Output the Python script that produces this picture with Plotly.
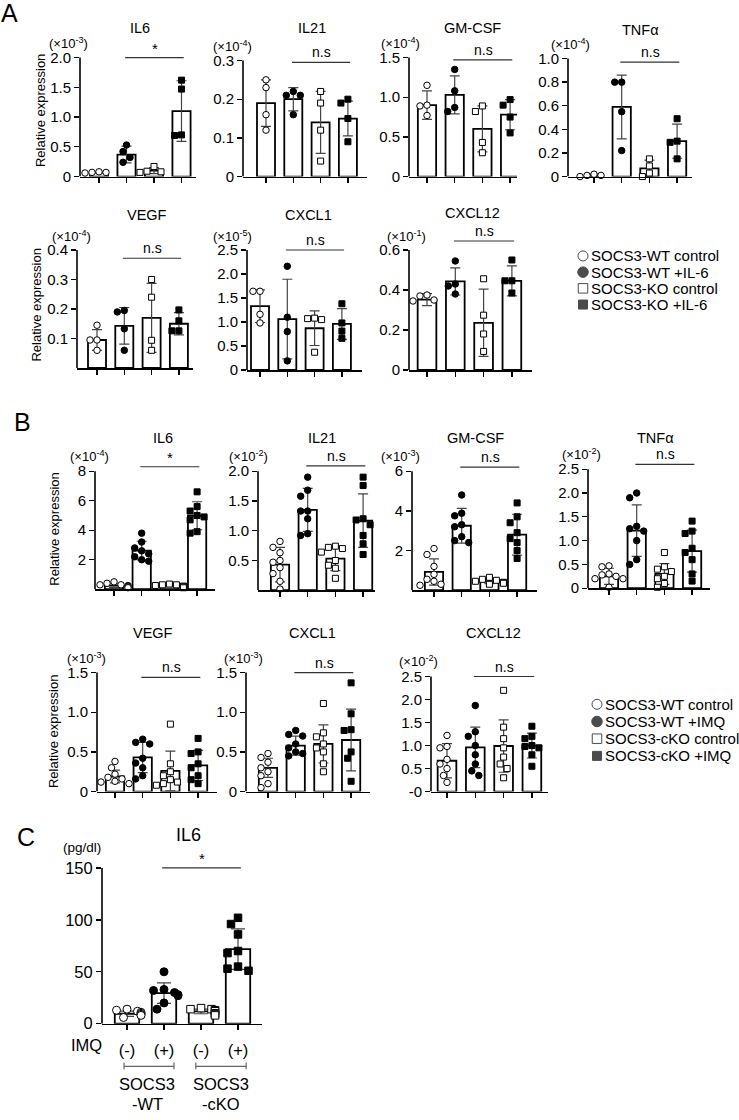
import plotly.graph_objects as go

W, H = 739, 1120
FONT = "Liberation Sans, Arial, Helvetica, sans-serif"

# ------------------------------------------------------------------ data
legend_A = ["SOCS3-WT control", "SOCS3-WT +IL-6", "SOCS3-KO control", "SOCS3-KO +IL-6"]
legend_B = ["SOCS3-WT control", "SOCS3-WT +IMQ", "SOCS3-cKO control", "SOCS3-cKO +IMQ"]

# Panel A
A_IL6_mean = [0.07, 0.37, 0.10, 1.10]
A_IL6_sd = [0.01, 0.14, 0.05, 0.51]
A_IL6_pts = [[0.06, 0.07, 0.08, 0.07], [0.53, 0.42, 0.32, 0.24], [0.17, 0.09, 0.08, 0.07], [1.62, 1.47, 0.70, 0.69]]
A_IL6_ticks = [0, 0.5, 1.0, 1.5, 2.0]
A_IL6_ticktext = ["0", "0.5", "1.0", "1.5", "2.0"]

A_IL21_mean = [0.19, 0.20, 0.14, 0.15]
A_IL21_sd = [0.06, 0.03, 0.08, 0.045]
A_IL21_pts = [[0.25, 0.23, 0.16, 0.12], [0.21, 0.22, 0.21, 0.16], [0.22, 0.19, 0.12, 0.04], [0.20, 0.19, 0.15, 0.09]]
A_IL21_ticks = [0, 0.1, 0.2, 0.3]
A_IL21_ticktext = ["0", "0.1", "0.2", "0.3"]

A_GMCSF_mean = [0.90, 1.03, 0.60, 0.78]
A_GMCSF_sd = [0.18, 0.24, 0.29, 0.19]
A_GMCSF_pts = [[1.15, 0.90, 0.89, 0.77], [1.35, 1.08, 0.87, 0.82], [0.89, 0.82, 0.43, 0.30], [0.97, 0.90, 0.75, 0.55]]
A_GMCSF_ticks = [0, 0.5, 1.0, 1.5]
A_GMCSF_ticktext = ["0", "0.5", "1.0", "1.5"]

A_TNFA_mean = [0.01, 0.59, 0.07, 0.30]
A_TNFA_sd = [0.01, 0.27, 0.07, 0.145]
A_TNFA_pts = [[0.02, 0.0, 0.01, 0.01], [0.80, 0.80, 0.55, 0.22], [0.15, 0.09, 0.03, 0.0], [0.49, 0.29, 0.30, 0.15]]
A_TNFA_ticks = [0, 0.2, 0.4, 0.6, 0.8, 1.0]
A_TNFA_ticktext = ["0", "0.2", "0.4", "0.6", "0.8", "1.0"]

A_VEGF_mean = [0.095, 0.143, 0.17, 0.15]
A_VEGF_sd = [0.035, 0.062, 0.117, 0.038]
A_VEGF_pts = [[0.145, 0.095, 0.095, 0.06], [0.19, 0.195, 0.133, 0.06], [0.30, 0.24, 0.094, 0.06], [0.197, 0.16, 0.126, 0.126]]
A_VEGF_ticks = [0.1, 0.2, 0.3, 0.4]
A_VEGF_ticktext = ["0.1", "0.2", "0.3", "0.4"]

A_CXCL1_mean = [1.33, 1.06, 0.87, 0.96]
A_CXCL1_sd = [0.34, 0.83, 0.36, 0.32]
A_CXCL1_pts = [[1.64, 1.64, 1.16, 0.98], [2.16, 1.10, 0.80, 0.19], [1.07, 1.05, 1.08, 0.37], [1.38, 0.98, 0.81, 0.66]]
A_CXCL1_ticks = [0, 0.5, 1.0, 1.5, 2.0, 2.5]
A_CXCL1_ticktext = ["0", "0.5", "1.0", "1.5", "2.0", "2.5"]

A_CXCL12_mean = [0.352, 0.443, 0.236, 0.446]
A_CXCL12_sd = [0.03, 0.068, 0.168, 0.075]
A_CXCL12_pts = [[0.375, 0.37, 0.35, 0.345], [0.545, 0.43, 0.42, 0.38], [0.456, 0.274, 0.18, 0.093], [0.55, 0.446, 0.446, 0.385]]
A_CXCL12_ticks = [0, 0.2, 0.4, 0.6]
A_CXCL12_ticktext = ["0", "0.2", "0.4", "0.6"]

# Panel B
B_IL6_mean = [0.25, 2.62, 0.25, 4.98]
B_IL6_sd = [0.12, 0.63, 0.10, 0.95]
B_IL6_pts = [[0.5, 0.4, 0.3, 0.3, 0.25, 0.2, 0.15, 0.1], [3.8, 3.2, 2.8, 2.6, 2.4, 2.2, 2.0, 1.9],
             [0.35, 0.3, 0.3, 0.25, 0.2, 0.2, 0.15, 0.1], [6.6, 5.6, 5.3, 5.0, 4.9, 4.7, 3.9, 3.8]]
B_IL6_ticks = [2, 4, 6, 8]
B_IL6_ticktext = ["2", "4", "6", "8"]

B_IL21_mean = [0.43, 1.35, 0.53, 1.17]
B_IL21_sd = [0.29, 0.36, 0.20, 0.45]
B_IL21_pts = [[0.82, 0.72, 0.63, 0.5, 0.47, 0.38, 0.28, 0.15, 0.02], [1.9, 1.68, 1.58, 1.33, 1.33, 1.2, 0.95, 0.92],
              [0.74, 0.72, 0.7, 0.64, 0.5, 0.42, 0.37, 0.2], [1.9, 1.76, 1.2, 1.18, 1.1, 0.92, 0.78, 0.6]]
B_IL21_ticks = [0.5, 1.0, 1.5, 2.0]
B_IL21_ticktext = ["0.5", "1.0", "1.5", "2.0"]

B_GMCSF_mean = [0.92, 3.25, 0.45, 2.80]
B_GMCSF_sd = [0.66, 0.88, 0.12, 1.03]
B_GMCSF_pts = [[2.1, 1.8, 1.2, 0.8, 0.55, 0.45, 0.3, 0.25], [4.8, 3.88, 3.75, 3.3, 3.2, 2.7, 2.5, 2.4],
               [0.65, 0.55, 0.5, 0.45, 0.4, 0.38, 0.35, 0.3], [4.4, 3.7, 3.4, 2.9, 2.6, 2.4, 2.0, 1.6]]
B_GMCSF_ticks = [2, 4, 6]
B_GMCSF_ticktext = ["2", "4", "6"]

B_TNFA_mean = [0.25, 1.21, 0.30, 0.78]
B_TNFA_sd = [0.17, 0.54, 0.22, 0.44]
B_TNFA_pts = [[0.47, 0.45, 0.3, 0.28, 0.25, 0.2, 0.2, 0.02], [2.0, 1.9, 1.3, 1.25, 1.2, 1.0, 0.6, 0.5],
              [0.75, 0.45, 0.4, 0.35, 0.25, 0.2, 0.1, 0.02], [1.41, 1.2, 1.15, 0.84, 0.75, 0.6, 0.3, 0.15]]
B_TNFA_ticks = [0, 0.5, 1.0, 1.5, 2.0, 2.5]
B_TNFA_ticktext = ["0", "0.5", "1.0", "1.5", "2.0", "2.5"]

B_VEGF_mean = [0.19, 0.43, 0.26, 0.33]
B_VEGF_sd = [0.08, 0.19, 0.25, 0.19]
B_VEGF_pts = [[0.38, 0.3, 0.22, 0.18, 0.16, 0.13, 0.12, 0.1], [0.66, 0.62, 0.6, 0.42, 0.36, 0.3, 0.2, 0.16],
              [0.85, 0.35, 0.25, 0.2, 0.15, 0.12, 0.1, 0.08], [0.67, 0.5, 0.48, 0.35, 0.3, 0.2, 0.15, 0.1]]
B_VEGF_ticks = [0, 0.5, 1.0, 1.5]
B_VEGF_ticktext = ["0", "0.5", "1.0", "1.5"]

B_CXCL1_mean = [0.30, 0.58, 0.60, 0.65]
B_CXCL1_sd = [0.12, 0.12, 0.24, 0.39]
B_CXCL1_pts = [[0.48, 0.43, 0.37, 0.3, 0.25, 0.2, 0.1, 0.05], [0.77, 0.72, 0.7, 0.6, 0.55, 0.5, 0.48, 0.45],
               [1.11, 0.74, 0.69, 0.6, 0.55, 0.5, 0.35, 0.25], [1.37, 0.98, 0.78, 0.77, 0.5, 0.42, 0.13]]
B_CXCL1_ticks = [0, 0.5, 1.0, 1.5]
B_CXCL1_ticktext = ["0", "0.5", "1.0", "1.5"]

B_CXCL12_mean = [0.67, 0.96, 0.99, 1.00]
B_CXCL12_sd = [0.37, 0.44, 0.57, 0.27]
B_CXCL12_pts = [[1.22, 0.98, 0.95, 0.7, 0.6, 0.5, 0.35, 0.2], [1.87, 1.3, 1.2, 1.0, 0.8, 0.6, 0.45, 0.35],
                [2.2, 1.4, 1.15, 0.95, 0.75, 0.6, 0.5, 0.3], [1.42, 1.2, 1.15, 1.0, 0.98, 0.95, 0.8, 0.55]]
B_CXCL12_ticks = [0, 0.5, 1.0, 1.5, 2.0, 2.5]
B_CXCL12_ticktext = ["-0", "0.5", "1.0", "1.5", "2.0", "2.5"]

# Panel C
C_IL6_mean = [9.6, 29.4, 11.8, 71.9]
C_IL6_sd = [2.5, 9.9, 2.2, 19.5]
C_IL6_pts = [[14, 13, 12, 11, 10, 9, 8, 6], [50, 33, 32, 30, 28, 27, 20, 14],
             [15, 14, 14, 13, 12, 10, 9, 8], [102, 96, 86, 70, 68, 55, 53, 51]]
C_IL6_ticks = [0, 50, 100, 150]
C_IL6_ticktext = ["0", "50", "100", "150"]
C_IMQ_labels = ["(-)", "(+)", "(-)", "(+)"]
C_group_labels = [("SOCS3", "-WT"), ("SOCS3", "-cKO")]

# ------------------------------------------------------------------ helpers
def fx(p):
    return p / W


def fy(p):
    return 1 - p / H


R = 1.3  # headroom above the top tick
SYM = ["circle", "circle", "square", "square"]
FILL = ["white", "black", "white", "black"]

fig = go.Figure()
axes = {}
shapes = []
ann = []


def text(**kw):
    d = dict(showarrow=False, xanchor="center", yanchor="middle")
    d.update(kw)
    ann.append(d)


def swarm(vals, ppu, sp, d):
    cand = [0, -3.5, 3.5, -7, 7, -10.5, 10.5, -14, 14]
    placed = []
    res = [0.0] * len(vals)
    for k in sorted(range(len(vals)), key=lambda k: -vals[k]):
        y = vals[k] * ppu
        chosen = cand[-1]
        for c in cand:
            if all((c - a) ** 2 + (y - b) ** 2 >= d * d for a, b in placed):
                chosen = c
                break
        placed.append((chosen, y))
        res[k] = chosen / sp
    return res


def add_panel(i, s):
    left, right, first, sp, y0, ytop = s["geom"]
    xs = "x" if i == 1 else f"x{i}"
    ys = "y" if i == 1 else f"y{i}"
    xa = "xaxis" if i == 1 else f"xaxis{i}"
    ya = "yaxis" if i == 1 else f"yaxis{i}"
    ymax = s["ticks"][-1]
    ppu = (y0 - ytop) / ymax
    top_px = y0 - ymax * R * ppu
    big = s.get("big", False)
    tfs = 16.5 if big else 15
    axes[xa] = dict(domain=[fx(left), fx(right)], range=[-(first - left) / sp, (right - first) / sp],
                    anchor=ys, showline=True, linecolor="black", linewidth=1.6, ticks="outside",
                    ticklen=5, tickwidth=1.3, tickcolor="black", tickvals=[0, 1, 2, 3],
                    ticktext=s.get("xlabels", ["", "", "", ""]), showticklabels=bool(s.get("xlabels")),
                    tickfont=dict(size=tfs, color="black"), ticklabelstandoff=6,
                    showgrid=False, zeroline=False, fixedrange=True)
    axes[ya] = dict(domain=[fy(y0), fy(top_px)], range=[0, ymax * R], anchor=xs, showline=False,
                    ticks="outside", ticklen=5, tickwidth=1.3, tickcolor="black",
                    tickvals=s["ticks"], ticktext=s["ticktext"], tickfont=dict(size=tfs, color="black"),
                    showgrid=False, zeroline=False, fixedrange=True)
    msz = 8 if big else 6.5
    fig.add_trace(go.Bar(x=[0, 1, 2, 3], y=s["mean"], width=0.66,
                         marker=dict(color="white", line=dict(color="black", width=1.8)),
                         error_y=dict(type="data", array=s["sd"], visible=True, color="#444",
                                      thickness=1.2, width=7 if big else 5),
                         xaxis=xs, yaxis=ys, hoverinfo="skip"))
    for g in range(4):
        offs = swarm(s["pts"][g], ppu, sp, msz + 0.5)
        fig.add_trace(go.Scatter(x=[g + o for o in offs], y=s["pts"][g], mode="markers",
                                 marker=dict(symbol=SYM[g], size=msz if g < 2 else msz - 0.5,
                                             color=FILL[g], line=dict(color="black", width=1)),
                                 cliponaxis=False, xaxis=xs, yaxis=ys, hoverinfo="skip"))
    # y axis line (Prism style, ends at top tick)
    shapes.append(dict(type="line", xref=f"{xs} domain", yref=ys, x0=0, x1=0, y0=0, y1=ymax,
                       line=dict(color="black", width=1.6)))
    # significance bar
    shapes.append(dict(type="line", xref=xs, yref=ys, x0=0.95, x1=3.08, y0=s["sig"], y1=s["sig"],
                       line=dict(color="#333", width=1.2)))
    star = s["sigtxt"] == "*"
    text(xref=xs, yref=ys, x=2.03, y=s["sig"], text=s["sigtxt"], yanchor="bottom",
         yshift=-1 if star else 0, font=dict(size=15 if star else 14, color="black"))
    # title
    tx, ty = s["tpos"]
    text(xref="paper", yref="paper", x=fx(tx), y=fy(ty), text=s["title"],
         font=dict(size=18 if big else 14.5, color="black"))
    # scale label
    text(xref=f"{xs} domain", yref=ys, x=0, y=ymax, text=s["scale"], xshift=s["sdx"], yshift=s["sdy"],
         font=dict(size=13.5 if big else 13, color="black"))


specs = [
    dict(title="IL6", mean=A_IL6_mean, sd=A_IL6_sd, pts=A_IL6_pts, ticks=A_IL6_ticks, ticktext=A_IL6_ticktext,
         scale="(×10<sup>-3</sup>)", sig=2.0, sigtxt="*", geom=(80, 196, 99, 27.5, 178, 58), tpos=(140, 28), sdx=-12, sdy=15),
    dict(title="IL21", mean=A_IL21_mean, sd=A_IL21_sd, pts=A_IL21_pts, ticks=A_IL21_ticks, ticktext=A_IL21_ticktext,
         scale="(×10<sup>-4</sup>)", sig=0.295, sigtxt="n.s", geom=(243, 367, 266, 27.3, 178, 61), tpos=(312, 28), sdx=-11, sdy=15),
    dict(title="GM-CSF", mean=A_GMCSF_mean, sd=A_GMCSF_sd, pts=A_GMCSF_pts, ticks=A_GMCSF_ticks, ticktext=A_GMCSF_ticktext,
         scale="(×10<sup>-4</sup>)", sig=1.47, sigtxt="n.s", geom=(409, 517, 427, 27.7, 178, 58), tpos=(472, 28), sdx=-9, sdy=15),
    dict(title="TNFα", mean=A_TNFA_mean, sd=A_TNFA_sd, pts=A_TNFA_pts, ticks=A_TNFA_ticks, ticktext=A_TNFA_ticktext,
         scale="(×10<sup>-4</sup>)", sig=0.97, sigtxt="n.s", geom=(568, 692, 594, 27.7, 178, 59), tpos=(640, 30), sdx=2, sdy=15),
    dict(title="VEGF", mean=A_VEGF_mean, sd=A_VEGF_sd, pts=A_VEGF_pts, ticks=A_VEGF_ticks, ticktext=A_VEGF_ticktext,
         scale="(×10<sup>-4</sup>)", sig=0.372, sigtxt="n.s", geom=(77, 193, 97, 27.3, 371, 252), tpos=(147, 217), sdx=-6, sdy=14),
    dict(title="CXCL1", mean=A_CXCL1_mean, sd=A_CXCL1_sd, pts=A_CXCL1_pts, ticks=A_CXCL1_ticks, ticktext=A_CXCL1_ticktext,
         scale="(×10<sup>-5</sup>)", sig=2.5, sigtxt="n.s", geom=(247, 362, 260, 27.3, 373, 252), tpos=(308, 217), sdx=-15, sdy=14),
    dict(title="CXCL12", mean=A_CXCL12_mean, sd=A_CXCL12_sd, pts=A_CXCL12_pts, ticks=A_CXCL12_ticks, ticktext=A_CXCL12_ticktext,
         scale="(×10<sup>-1</sup>)", sig=0.645, sigtxt="n.s", geom=(409, 532, 427, 28.3, 373, 252), tpos=(473, 215), sdx=-3, sdy=14),
    dict(title="IL6", mean=B_IL6_mean, sd=B_IL6_sd, pts=B_IL6_pts, ticks=B_IL6_ticks, ticktext=B_IL6_ticktext,
         scale="(×10<sup>-4</sup>)", sig=8.3, sigtxt="*", geom=(95, 215, 114, 27.7, 594, 475), tpos=(163, 442), sdx=-5, sdy=15),
    dict(title="IL21", mean=B_IL21_mean, sd=B_IL21_sd, pts=B_IL21_pts, ticks=B_IL21_ticks, ticktext=B_IL21_ticktext,
         scale="(×10<sup>-2</sup>)", sig=2.09, sigtxt="n.s", geom=(258, 375, 280, 27.7, 595, 475), tpos=(322, 442), sdx=-10, sdy=15),
    dict(title="GM-CSF", mean=B_GMCSF_mean, sd=B_GMCSF_sd, pts=B_GMCSF_pts, ticks=B_GMCSF_ticks, ticktext=B_GMCSF_ticktext,
         scale="(×10<sup>-3</sup>)", sig=6.2, sigtxt="n.s", geom=(412, 537, 434, 27.7, 595, 475), tpos=(475, 442), sdx=-12, sdy=15),
    dict(title="TNFα", mean=B_TNFA_mean, sd=B_TNFA_sd, pts=B_TNFA_pts, ticks=B_TNFA_ticks, ticktext=B_TNFA_ticktext,
         scale="(×10<sup>-2</sup>)", sig=2.6, sigtxt="n.s", geom=(588, 710, 609, 27.7, 593, 473), tpos=(655, 442), sdx=-7, sdy=15),
    dict(title="VEGF", mean=B_VEGF_mean, sd=B_VEGF_sd, pts=B_VEGF_pts, ticks=B_VEGF_ticks, ticktext=B_VEGF_ticktext,
         scale="(×10<sup>-3</sup>)", sig=1.44, sigtxt="n.s", geom=(97, 217, 115, 27.7, 798, 678), tpos=(153, 638), sdx=-11, sdy=15),
    dict(title="CXCL1", mean=B_CXCL1_mean, sd=B_CXCL1_sd, pts=B_CXCL1_pts, ticks=B_CXCL1_ticks, ticktext=B_CXCL1_ticktext,
         scale="(×10<sup>-3</sup>)", sig=1.5, sigtxt="n.s", geom=(246, 370, 268, 27.7, 798, 678), tpos=(312, 638), sdx=-3, sdy=15),
    dict(title="CXCL12", mean=B_CXCL12_mean, sd=B_CXCL12_sd, pts=B_CXCL12_pts, ticks=B_CXCL12_ticks, ticktext=B_CXCL12_ticktext,
         scale="(×10<sup>-2</sup>)", sig=2.5, sigtxt="n.s", geom=(431, 548, 447, 28.3, 798, 682), tpos=(493, 638), sdx=-13, sdy=16),
    dict(title="IL6", mean=C_IL6_mean, sd=C_IL6_sd, pts=C_IL6_pts, ticks=C_IL6_ticks, ticktext=C_IL6_ticktext,
         scale="(pg/dl)", sig=150, sigtxt="*", geom=(102, 262, 127, 37, 1032, 875), tpos=(188, 842), sdx=-20, sdy=20,
         big=True, xlabels=C_IMQ_labels),
]

for i, s in enumerate(specs, start=1):
    add_panel(i, s)

# ------------------------------------------------------------------ legends (drawn on hidden helper axes)
for idx, (labels, x_left, y_top, y_bot) in enumerate([(legend_A, 573, 248.2, 316.8), (legend_B, 587, 699.6, 772.4)]):
    n = 16 + idx
    xs, ys = f"x{n}", f"y{n}"
    axes[f"xaxis{n}"] = dict(domain=[fx(x_left), 1], range=[-1, (W - x_left) / 10 - 1], visible=False,
                             anchor=ys, fixedrange=True)
    axes[f"yaxis{n}"] = dict(domain=[fy(y_bot), fy(y_top)], range=[3.6, -0.6], visible=False,
                             anchor=xs, fixedrange=True)
    fig.add_trace(go.Scatter(x=[0, 0, 0, 0], y=[0, 1, 2, 3], mode="markers",
                             marker=dict(symbol=SYM, size=[10, 10.5, 9.5, 9], color=FILL,
                                         line=dict(color="black", width=1)),
                             cliponaxis=False, xaxis=xs, yaxis=ys, hoverinfo="skip"))
    for r, lab in enumerate(labels):
        text(xref=xs, yref=ys, x=0, y=r, text=lab, xanchor="left", xshift=6,
             font=dict(size=15, color="black"))

# ------------------------------------------------------------------ other texts
for txt, x, y in [("A", 9, 13), ("B", 22, 425), ("C", 26, 844)]:
    text(xref="paper", yref="paper", x=fx(x), y=fy(y), text=txt, font=dict(size=25, color="black"))
for x, y in [(40, 112), (37, 308), (55, 533), (53, 737)]:
    text(xref="paper", yref="paper", x=fx(x), y=fy(y), text="Relative expression", textangle=-90,
         font=dict(size=13, color="black"))

# panel C extras
text(xref="paper", yref="paper", x=fx(86), y=fy(1053), text="IMQ", font=dict(size=16.5, color="black"))
for (a, b), cx, (l1, l2) in zip([(-0.08, 1.27), (1.86, 3.22)], [0.55, 2.55], C_group_labels):
    shapes.append(dict(type="line", xref="x15", yref="paper", x0=a, x1=b, y0=fy(1075), y1=fy(1075),
                       line=dict(color="#666", width=1.2)))
    for e in (a, b):
        shapes.append(dict(type="line", xref="x15", yref="paper", x0=e, x1=e, y0=fy(1071), y1=fy(1078),
                           line=dict(color="#666", width=1.2)))
    text(xref="x15", yref="paper", x=cx, y=fy(1093), text=l1, font=dict(size=16.5, color="black"))
    text(xref="x15", yref="paper", x=cx, y=fy(1113), text=l2, font=dict(size=16.5, color="black"))

fig.update_layout(width=W, height=H, margin=dict(l=0, r=0, t=0, b=0), showlegend=False,
                  paper_bgcolor="white", plot_bgcolor="rgba(0,0,0,0)", bargap=0,
                  font=dict(family=FONT, color="black"), shapes=shapes, annotations=ann, **axes)

fig.write_html("out.html", config={"displayModeBar": False, "staticPlot": True},
               post_script="document.body.style.margin='0';document.body.style.overflow='hidden';")
